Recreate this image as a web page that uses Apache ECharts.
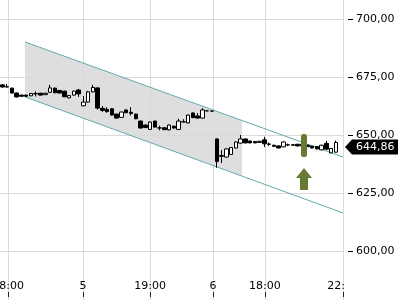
<!DOCTYPE html>
<html><head><meta charset="utf-8">
<script src="https://cdn.jsdelivr.net/npm/echarts@6/dist/echarts.min.js"></script>
<style>html,body{margin:0;padding:0;background:#fff}#c{width:400px;height:300px}</style>
</head><body><div id="c"></div>
<script>
// 15-minute slots, three sessions
const day4Times = ['17:45','18:00','18:15','18:30','18:45','19:00','19:15','19:30','19:45','20:00','20:15','20:30','20:45','21:00','21:15','21:30','21:45'];
const day5Times = ['15:30','15:45','16:00','16:15','16:30','16:45','17:00','17:15','17:30','17:45','18:00','18:15','18:30','18:45','19:00','19:15','19:30','19:45','20:00','20:15','20:30','20:45','21:00','21:15','21:30','21:45','22:00'];
const day6Times = ['09:00','15:30','15:45','16:00','16:15','16:30','16:45','17:00','17:15','17:30','17:45','18:00','18:15','18:30','18:45','19:00','19:15','19:30','19:45','20:00','20:15','20:30','20:45','21:00','21:15','21:30','21:45','22:00'];
const categories = [].concat(day4Times.map(t => '4 ' + t), day5Times.map(t => '5 ' + t), day6Times.map(t => '6 ' + t));

const opens  = [671.6,670.8,670.2,668.1,667.2,667.2,666.9,667.7,668.0,667.4,668.4,670.2,669.2,668.9,666.0,667.2,669.4,
                662.6,664.2,668.6,670.3,661.5,661.0,661.3,659.0,657.6,660.8,659.8,659.0,656.0,654.3,652.4,656.0,653.0,653.1,652.2,653.8,652.4,655.6,655.2,659.5,658.2,657.3,660.4,
                660.3,648.3,640.8,640.5,641.6,644.4,646.5,648.3,647.4,647.2,646.8,647.9,646.1,645.6,645.3,644.9,645.7,645.8,646.0,645.3,645.6,645.2,645.0,643.6,646.4,642.3,642.6];
const closes = [670.7,670.7,668.1,666.4,666.7,666.7,667.9,667.9,667.2,668.0,670.3,668.2,668.1,666.5,667.0,668.9,667.7,
                664.2,668.6,670.5,661.6,660.6,660.1,658.6,657.3,659.9,659.6,659.3,657.0,653.0,653.2,655.6,653.4,653.1,652.3,654.3,653.0,656.0,655.7,658.6,657.5,657.3,660.8,660.4,
                660.3,638.6,641.2,644.0,644.6,647.0,648.3,646.6,646.6,646.6,647.3,646.2,646.0,645.1,644.4,647.0,645.8,645.6,645.3,646.0,645.0,644.4,644.0,645.6,643.9,644.2,646.8];
const lows   = [670.4,670.5,667.9,666.2,666.5,666.5,666.7,666.6,667.0,667.2,668.2,668.0,667.9,666.3,665.8,667.0,666.4,
                662.4,664.0,668.4,661.0,660.0,659.6,658.4,657.0,657.4,659.4,658.4,656.8,652.8,653.0,652.2,653.2,652.0,652.1,652.0,652.8,652.2,655.5,655.0,657.3,657.1,657.1,660.4,
                660.2,635.9,637.9,640.3,641.4,644.2,646.3,646.4,646.4,646.4,646.6,644.8,645.3,644.9,644.2,644.7,645.2,645.4,645.1,645.1,644.8,644.2,643.8,643.4,643.5,642.1,642.4];
const highs  = [672.0,672.0,670.4,668.3,667.4,667.4,668.1,668.8,668.2,668.2,671.6,670.4,669.4,669.1,667.2,669.1,669.8,
                666.8,669.0,671.6,670.5,662.5,662.0,661.6,659.2,660.1,661.0,662.0,659.2,656.2,654.5,655.8,656.2,654.0,653.3,654.5,654.0,657.0,656.8,658.8,659.7,659.4,661.6,660.5,
                660.4,648.5,643.5,644.2,644.8,647.2,650.0,648.5,647.6,647.4,647.5,649.2,646.8,645.8,645.5,647.2,646.3,646.0,646.2,646.2,645.8,645.4,645.2,645.8,647.5,644.4,647.6];
const lastPrice = 644.86;

const tickAt = [1.2, 16.9, 31, 44.2, 55.1, 71.5];
const tickLabels = ['18:00','5','19:00','6','18:00','22:00'];
const yTickValues = [600, 625, 650, 675, 700];

const channelUpper = [[4.75, 690.1], [71.5, 640.5]];
const channelLower = [[4.75, 666.4], [71.5, 616.4]];
const channelFillEnd = 50.3;

const signalIndex = 63;
const signalBar = [640.5, 650.4];
const signalArrow = [626.3, 635.8];

const candleData = opens.map((o, i) => [o, closes[i], lows[i], highs[i]]);
function lineAt(line, x) { const a = line[0], b = line[1]; return a[1] + (b[1] - a[1]) * (x - a[0]) / (b[0] - a[0]); }
const FONT = 'DejaVu Sans';
const GREEN = '#677a32';
const TEAL = '#62a9b0';

const chart = echarts.init(document.getElementById('c'), null, {renderer: 'canvas'});
chart.setOption({
  animation: false,
  grid: {left: 0, right: 57, top: -39, bottom: -9, containLabel: false, outerBoundsMode: 'none'},
  xAxis: [
    {type: 'category', data: categories, boundaryGap: true, show: false},
    {type: 'value', min: -0.5, max: 71.5, position: 'bottom', offset: -17,
     axisLine: {show: false},
     axisTick: {show: true, length: 5, customValues: tickAt, lineStyle: {color: '#222'}},
     axisLabel: {show: true, inside: true, margin: 0, customValues: tickAt, color: '#000', fontSize: 11, fontFamily: FONT,
       formatter: v => { let k = -1, best = 1e9; tickAt.forEach((t, j) => { const d = Math.abs(t - v); if (d < best) { best = d; k = j; } }); return best < 0.05 ? tickLabels[k] : ''; }},
     splitLine: {show: true, lineStyle: {color: '#d9d9d9', width: 1}}}
  ],
  yAxis: {type: 'value', position: 'right', min: 575, max: 725, interval: 25, offset: 5,
    axisLine: {show: false},
    axisTick: {show: false},
    axisLabel: {margin: 8, color: '#000', fontSize: 11, fontFamily: FONT, formatter: v => v.toFixed(2).replace('.', ',')},
    splitLine: {show: true, lineStyle: {color: '#d9d9d9', width: 1}}},
  series: [
    {type: 'custom', xAxisIndex: 1, z: -1, silent: true, data: [[0]],
     renderItem: (params, api) => {
       const x0 = channelUpper[0][0], x1 = channelFillEnd;
       const pts = [[x0, lineAt(channelUpper, x0)], [x1, lineAt(channelUpper, x1)], [x1, lineAt(channelLower, x1)], [x0, lineAt(channelLower, x0)]].map(p => api.coord(p));
       return {type: 'polygon', shape: {points: pts}, style: {fill: '#dedede'}};
     }},
    {type: 'line', xAxisIndex: 1, data: channelUpper, symbol: 'none', silent: true, z: 3, lineStyle: {color: TEAL, width: 1}},
    {type: 'line', xAxisIndex: 1, data: channelLower, symbol: 'none', silent: true, z: 3, lineStyle: {color: TEAL, width: 1}},
    {type: 'candlestick', xAxisIndex: 0, data: candleData, barWidth: 4, z: 4,
     itemStyle: {color: '#ffffff', borderColor: '#000000', color0: '#000000', borderColor0: '#000000', borderWidth: 1}},
    {type: 'custom', xAxisIndex: 0, z: 6, silent: true, data: [[signalIndex]],
     renderItem: (params, api) => {
       const top = api.coord([signalIndex, signalBar[1]]), bot = api.coord([signalIndex, signalBar[0]]);
       const at = api.coord([signalIndex, signalArrow[1]]), ab = api.coord([signalIndex, signalArrow[0]]);
       const cx = top[0] + 1.5;
       return {type: 'group', children: [
         {type: 'rect', shape: {x: cx - 3, y: top[1], width: 6, height: bot[1] - top[1], r: 2.5}, style: {fill: GREEN}},
         {type: 'polygon', shape: {points: [[cx, at[1]], [cx + 8, at[1] + 10], [cx + 4, at[1] + 10], [cx + 4, ab[1]], [cx - 4, ab[1]], [cx - 4, at[1] + 10], [cx - 8, at[1] + 10]]}, style: {fill: GREEN}}
       ]};
     }},
    {type: 'custom', xAxisIndex: 0, z: 8, silent: true, clip: false, data: yTickValues.map(v => [0, v]),
     renderItem: (params, api) => {
       const p = api.coord([0, api.value(1)]);
       const cs = params.coordSys;
       const x0 = cs.x + cs.width + 5, y = Math.round(p[1]) + 0.5;
       return {type: 'line', shape: {x1: x0, y1: y, x2: x0 + 5, y2: y}, style: {stroke: '#000', lineWidth: 1}};
     }},
    {type: 'custom', xAxisIndex: 0, z: 10, silent: true, clip: false, data: [[opens.length - 1]],
     renderItem: (params, api) => {
       const p = api.coord([opens.length - 1, lastPrice]);
       const cs = params.coordSys;
       const x0 = cs.x + cs.width + 2, y = p[1];
       return {type: 'group', children: [
         {type: 'polygon', shape: {points: [[x0, y], [x0 + 7, y - 7.5], [x0 + 53, y - 7.5], [x0 + 53, y + 7.5], [x0 + 7, y + 7.5]]}, style: {fill: '#000'}},
         {type: 'text', style: {x: x0 + 11, y: y, text: lastPrice.toFixed(2).replace('.', ','), fill: '#fff', font: '11px "DejaVu Sans"', verticalAlign: 'middle', align: 'left'}}
       ]};
     }}
  ],
  graphic: [{type: 'rect', z: 100, silent: true, shape: {x: 344, y: 276, width: 56, height: 24}, style: {fill: '#fff'}}]
});
</script></body></html>
